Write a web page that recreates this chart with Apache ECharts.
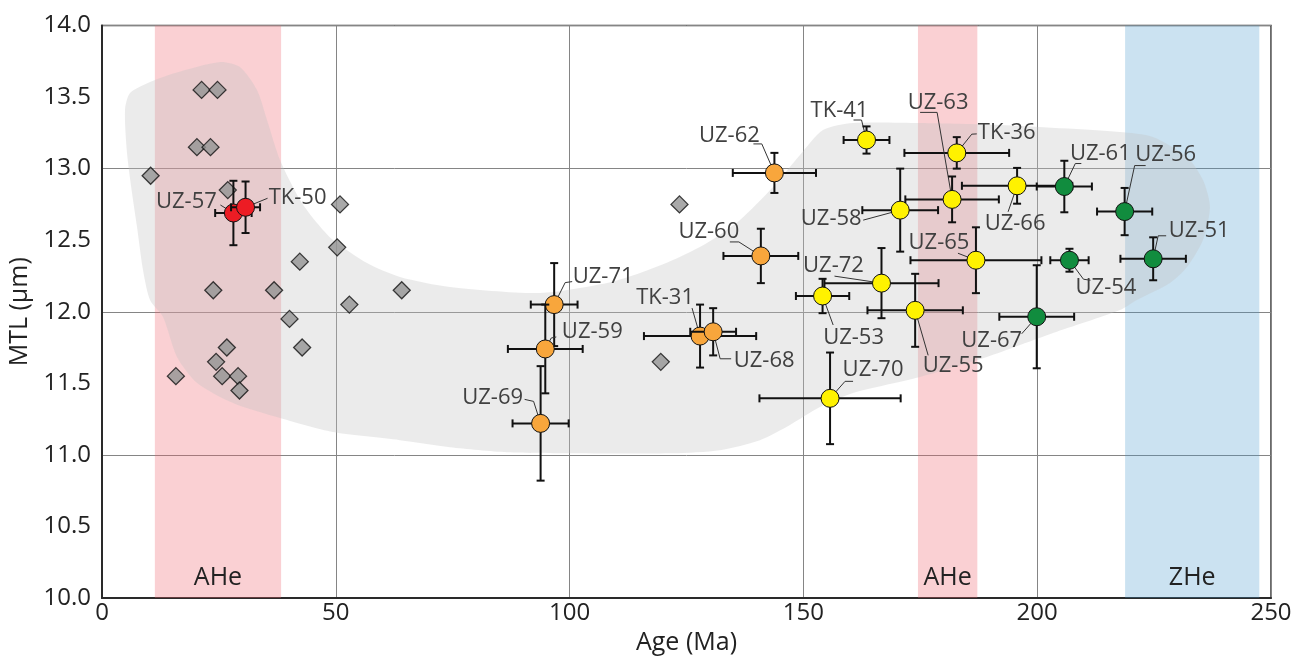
<!DOCTYPE html>
<html>
<head>
<meta charset="utf-8">
<script src="https://cdn.jsdelivr.net/npm/echarts@6/dist/echarts.min.js"></script>
<style>
  html, body { margin: 0; padding: 0; background: #ffffff; }
  #chart { width: 1312px; height: 659px; }
</style>
</head>
<body>
<div id="chart"></div>
<script>
const FONT = '"Open Sans", "Noto Sans", "DejaVu Sans", sans-serif';

// Published AFT ages / mean track lengths (grey diamonds)
const refAge = [10.4, 21.3, 24.7, 20.3, 23.2, 26.9, 50.9, 50.3, 42.3, 23.8, 36.8, 64.1,
                52.9, 40.1, 42.8, 26.7, 24.4, 15.8, 25.7, 29.1, 29.4, 123.5, 119.5];
const refMtl = [12.95, 13.55, 13.55, 13.15, 13.15, 12.85, 12.75, 12.45, 12.35, 12.15, 12.15, 12.15,
                12.05, 11.95, 11.75, 11.75, 11.65, 11.55, 11.55, 11.55, 11.45, 12.75, 11.65];

// Samples of this study: central age ± error, MTL ± error
const sampleName   = ['UZ-57', 'TK-50', 'UZ-62', 'UZ-60', 'UZ-71', 'UZ-59', 'UZ-69', 'TK-31', 'UZ-68',
                      'TK-41', 'TK-36', 'UZ-63', 'UZ-66', 'UZ-58', 'UZ-65', 'UZ-72', 'UZ-53', 'UZ-55', 'UZ-70',
                      'UZ-61', 'UZ-56', 'UZ-51', 'UZ-54', 'UZ-67'];
const sampleAge    = [28.1, 30.7, 143.8, 140.9, 96.7, 94.8, 93.8, 127.9, 130.7,
                      163.5, 182.8, 181.8, 195.7, 170.7, 186.9, 166.7, 154.1, 173.9, 155.7,
                      205.8, 218.7, 224.8, 206.9, 199.9];
const sampleAgeErr = [3.9, 3.1, 8.9, 8.0, 5.0, 8.0, 6.0, 12.0, 4.9,
                      4.9, 11.2, 10.0, 11.8, 8.1, 14.0, 12.2, 5.7, 10.2, 15.1,
                      5.9, 5.9, 7.0, 4.1, 8.0];
const sampleMtl    = [12.69, 12.73, 12.97, 12.39, 12.05, 11.74, 11.22, 11.83, 11.86,
                      13.20, 13.11, 12.785, 12.88, 12.71, 12.36, 12.20, 12.11, 12.01, 11.395,
                      12.875, 12.70, 12.37, 12.36, 11.965];
const sampleMtlErr = [0.225, 0.18, 0.14, 0.19, 0.29, 0.31, 0.40, 0.22, 0.165,
                      0.095, 0.11, 0.16, 0.125, 0.29, 0.23, 0.245, 0.12, 0.255, 0.32,
                      0.18, 0.165, 0.15, 0.08, 0.36];
// 0 = red, 1 = orange, 2 = yellow, 3 = green
const sampleGroup  = [0, 0, 1, 1, 1, 1, 1, 1, 1,
                      2, 2, 2, 2, 2, 2, 2, 2, 2, 2,
                      3, 3, 3, 3, 3];

// Thermochronometer age windows
const bandName = ['AHe', 'AHe', 'ZHe'];
const bandFrom = [11.3, 174.5, 218.8];
const bandTo   = [38.3, 187.2, 247.5];

// Outline of the shaded trend envelope (age, MTL)
const envAge = [4.92, 5.99, 10.27, 15.61, 25.24, 29.51, 33.15, 35.29, 38.07, 42.34, 45.98, 49.40,
                56.67, 63.73, 74.42, 93.67, 108.00, 115.06, 122.11, 129.38, 136.44, 143.50, 149.27,
                154.19, 160.61, 174.94, 192.04, 217.71, 224.77, 232.04, 235.46, 236.95, 235.46,
                232.04, 228.40, 221.34, 217.71, 203.38, 189.26, 174.94, 160.61, 153.55, 147.13,
                140.72, 132.16, 122.11, 100.73, 86.61, 74.42, 63.73, 49.40, 38.07, 28.02, 20.32,
                16.04, 13.05, 10.27, 8.77, 7.49, 6.42, 5.35];
const envMtl = [13.410, 13.528, 13.605, 13.668, 13.745, 13.710, 13.549, 13.340, 13.060, 12.781, 12.620, 12.501,
                12.340, 12.243, 12.173, 12.131, 12.201, 12.271, 12.361, 12.480, 12.641, 12.871, 13.095,
                13.270, 13.319, 13.319, 13.305, 13.256, 13.221, 13.081, 12.920, 12.732, 12.501,
                12.312, 12.201, 12.082, 12.012, 11.851, 11.684, 11.544, 11.432, 11.334, 11.209,
                11.103, 11.033, 11.012, 11.012, 11.019, 11.054, 11.103, 11.159, 11.257, 11.362, 11.502,
                11.684, 11.963, 12.082, 12.291, 12.592, 12.830, 13.109];

// Label placement: text centre offset [dx, dy] in px, then leader-line bend points (px offsets)
const labelPlace = {
  'UZ-57': [-47, -11, [[-13, -8]]],
  'TK-50': [52, -10, [[22, -9]]],
  'UZ-62': [-45, -37, [[-21, -29], [-12.6, -29]]],
  'UZ-60': [-52, -24, [[-31, -14], [-22, -14]]],
  'UZ-71': [49, -28, [[18, -23], [11, -22]]],
  'UZ-59': [47, -17, [[11, -12], [6, -11]]],
  'UZ-69': [-48, -26, [[-16, -24], [-7, -22]]],
  'TK-31': [-35, -38.5, [[-8, -28]]],
  'UZ-68': [51, 29, [[18, 27], [7, 27]]],
  'TK-41': [-27, -29, [[-13, -20], [-5, -20]]],
  'UZ-63': [-14, -97, [[-32, -87], [-15, -87]]],
  'TK-36': [50, -20, [[20, -19], [15, -18.7]]],
  'UZ-61': [36, -33, [[17, -23], [11, -23]]],
  'UZ-56': [41, -57, [[21, -46], [10, -46]]],
  'UZ-58': [-69, 9, [[-37, 10]]],
  'UZ-66': [-2, 38, [[-9, 26]]],
  'UZ-65': [-37, -17.5, [[-18, -7]]],
  'UZ-72': [-48, -17, [[-47, -7]]],
  'UZ-51': [46, -28, [[13, -23], [5, -23]]],
  'UZ-54': [36.5, 27.5, [[21, 20], [14, 19]]],
  'UZ-53': [31, 41.5, [[10.6, 29]]],
  'UZ-55': [38, 55, [[13, 45]]],
  'UZ-67': [-45, 24, [[-15, 17]]],
  'UZ-70': [43, -29, [[23, -17], [15, -17]]]
};

const groupColor = ['#ed1c24', '#f8a63c', '#fff200', '#118c3e'];

const chart = echarts.init(document.getElementById('chart'), null, { renderer: 'canvas' });

const sampleData = sampleAge.map((a, i) =>
  [a, sampleMtl[i], sampleAgeErr[i], sampleMtlErr[i], sampleGroup[i]]);

const bandAreas = bandName.map((n, i) => [
  {
    xAxis: bandFrom[i],
    name: n,
    itemStyle: { color: n === 'ZHe' ? 'rgba(70,150,205,0.28)' : 'rgba(240,100,110,0.30)' }
  },
  { xAxis: bandTo[i] }
]);

function renderEnvelope(params, api) {
  const pts = envAge.map((a, i) => api.coord([a, envMtl[i]]));
  return {
    type: 'polygon',
    shape: { points: pts, smooth: 0.25 },
    style: { fill: 'rgba(195,195,195,0.33)', stroke: null }
  };
}

function renderSample(params, api) {
  const i = params.dataIndex;
  const age = api.value(0), mtl = api.value(1);
  const ageErr = api.value(2), mtlErr = api.value(3);
  const grp = api.value(4);
  const c = api.coord([age, mtl]);
  const l = api.coord([age - ageErr, mtl]);
  const r = api.coord([age + ageErr, mtl]);
  const t = api.coord([age, mtl + mtlErr]);
  const b = api.coord([age, mtl - mtlErr]);
  const cap = 4;
  const bar = { stroke: '#111111', lineWidth: 2 };
  const name = sampleName[i];
  const place = labelPlace[name];
  const children = [];

  const lead = place[2].map(p => [c[0] + p[0], c[1] + p[1]]);
  lead.push([c[0], c[1]]);
  children.push({ type: 'polyline', shape: { points: lead }, style: { stroke: '#333333', lineWidth: 1, fill: null } });

  children.push({ type: 'line', shape: { x1: l[0], y1: l[1], x2: r[0], y2: r[1] }, style: bar });
  children.push({ type: 'line', shape: { x1: t[0], y1: t[1], x2: b[0], y2: b[1] }, style: bar });
  children.push({ type: 'line', shape: { x1: l[0], y1: l[1] - cap, x2: l[0], y2: l[1] + cap }, style: bar });
  children.push({ type: 'line', shape: { x1: r[0], y1: r[1] - cap, x2: r[0], y2: r[1] + cap }, style: bar });
  children.push({ type: 'line', shape: { x1: t[0] - cap, y1: t[1], x2: t[0] + cap, y2: t[1] }, style: bar });
  children.push({ type: 'line', shape: { x1: b[0] - cap, y1: b[1], x2: b[0] + cap, y2: b[1] }, style: bar });

  children.push({
    type: 'circle',
    shape: { cx: c[0], cy: c[1], r: 9 },
    style: { fill: groupColor[grp], stroke: '#111111', lineWidth: 1 }
  });

  children.push({
    type: 'text',
    x: c[0] + place[0],
    y: c[1] + place[1],
    style: {
      text: name,
      fill: '#404040',
      font: '22px ' + FONT,
      align: 'center',
      verticalAlign: 'middle'
    }
  });

  return { type: 'group', children: children };
}

const option = {
  animation: false,
  backgroundColor: '#ffffff',
  textStyle: { fontFamily: FONT },
  grid: {
    left: 102, right: 41, top: 25.5, bottom: 61,
    containLabel: false,
    outerBoundsMode: 'none',
    show: true, borderColor: '#3a3a3a', borderWidth: 1.5, backgroundColor: 'transparent'
  },
  xAxis: {
    type: 'value', min: 0, max: 250, interval: 50,
    name: 'Age (Ma)', nameLocation: 'middle', nameGap: 30,
    nameTextStyle: { fontSize: 25, color: '#222222', fontFamily: FONT },
    axisLine: { show: true, lineStyle: { color: '#2a2a2a', width: 2 } },
    axisTick: { show: false },
    axisLabel: { fontSize: 24, color: '#222222', margin: 3, fontFamily: FONT },
    splitLine: { show: true, lineStyle: { color: '#858585', width: 1 } }
  },
  yAxis: [
    {
      type: 'value', min: 10, max: 14, interval: 0.5,
      name: 'MTL (µm)', nameLocation: 'middle', nameGap: 68, nameRotate: 90,
      nameTextStyle: { fontSize: 25, color: '#222222', fontFamily: FONT },
      axisLine: { show: true, lineStyle: { color: '#2a2a2a', width: 2 } },
      axisTick: { show: false },
      axisLabel: { fontSize: 24, color: '#222222', margin: 11, fontFamily: FONT,
                   formatter: v => v.toFixed(1) },
      splitLine: { show: false }
    },
    {
      type: 'value', min: 10, max: 14, interval: 1, position: 'left',
      axisLine: { show: false }, axisTick: { show: false }, axisLabel: { show: false },
      splitLine: { show: true, lineStyle: { color: '#858585', width: 1 } }
    }
  ],
  series: [
    {
      name: 'windows',
      type: 'scatter',
      data: [],
      z: 1,
      silent: true,
      markArea: {
        silent: true,
        label: {
          show: true, position: 'insideBottom', distance: 8,
          fontSize: 25, color: '#222222', fontFamily: FONT,
          formatter: p => p.name
        },
        data: bandAreas
      }
    },
    {
      name: 'envelope',
      type: 'custom',
      z: 2,
      silent: true,
      renderItem: renderEnvelope,
      data: [[envAge[0], envMtl[0]]]
    },
    {
      name: 'published',
      type: 'scatter',
      z: 3,
      symbol: 'diamond',
      symbolSize: 17,
      itemStyle: { color: '#949494', borderColor: '#111111', borderWidth: 1.3 },
      data: refAge.map((a, i) => [a, refMtl[i]])
    },
    {
      name: 'samples',
      type: 'custom',
      z: 4,
      renderItem: renderSample,
      encode: { x: 0, y: 1 },
      data: sampleData
    }
  ]
};

chart.setOption(option);
</script>
</body>
</html>
